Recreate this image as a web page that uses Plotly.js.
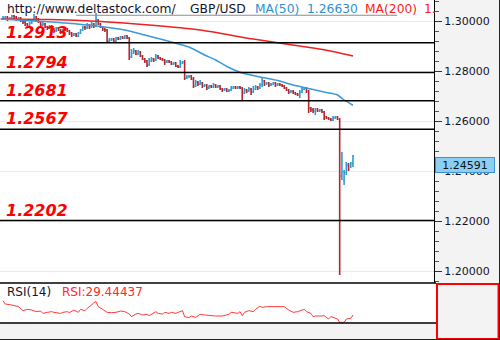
<!DOCTYPE html>
<html><head><meta charset="utf-8">
<script src="https://cdn.plot.ly/plotly-3.0.1.min.js"></script>
<style>html,body{margin:0;padding:0;background:#fff}#chart{width:500px;height:340px}</style>
</head><body><div id="chart"></div>
<script>
// ---- data ----
const opens = [1.3008,1.3012,1.3016,1.3008,1.3012,1.3020,1.3016,1.3008,1.3012,1.3004,
1.2996,1.2988,1.2980,1.2992,1.3004,1.3016,1.3008,1.2996,1.2984,1.2988,
1.2976,1.2972,1.2980,1.2968,1.2960,1.2972,1.2964,1.2956,1.2964,1.2968,
1.2960,1.2952,1.2944,1.2948,1.2940,1.2952,1.2964,1.2976,1.2972,1.2984,
1.2976,1.2988,1.2980,1.3004,1.2988,1.2976,1.2968,1.2964,1.2920,1.2924,
1.2928,1.2920,1.2932,1.2928,1.2936,1.2932,1.2940,1.2932,1.2856,1.2872,
1.2880,1.2868,1.2876,1.2860,1.2848,1.2840,1.2824,1.2840,1.2848,1.2844,
1.2860,1.2852,1.2848,1.2844,1.2836,1.2840,1.2836,1.2828,1.2832,1.2820,
1.2816,1.2832,1.2836,1.2772,1.2776,1.2780,1.2768,1.2740,1.2756,1.2748,
1.2752,1.2740,1.2744,1.2732,1.2740,1.2736,1.2744,1.2736,1.2740,1.2728,
1.2724,1.2728,1.2720,1.2724,1.2732,1.2736,1.2732,1.2736,1.2732,1.2712,
1.2724,1.2720,1.2728,1.2716,1.2728,1.2736,1.2732,1.2744,1.2760,1.2748,
1.2752,1.2744,1.2748,1.2752,1.2744,1.2748,1.2744,1.2740,1.2732,1.2724,
1.2716,1.2720,1.2712,1.2708,1.2704,1.2716,1.2728,1.2732,1.2720,1.2652,
1.2644,1.2640,1.2648,1.2640,1.2644,1.2636,1.2616,1.2612,1.2608,1.2604,
1.2612,1.2616,1.2608,1.2380,1.2364,1.2392,1.2424,1.2416,1.2428];
const highs = [1.3020,1.3020,1.3020,1.3016,1.3024,1.3024,1.3020,1.3016,1.3016,1.3008,
1.3000,1.2992,1.2996,1.3008,1.3028,1.3020,1.3012,1.3000,1.2996,1.2992,
1.2980,1.2984,1.2984,1.2972,1.2976,1.2976,1.2968,1.2968,1.2972,1.2972,
1.2964,1.2956,1.2952,1.2952,1.2956,1.2968,1.2980,1.2980,1.2992,1.2988,
1.2996,1.2992,1.3032,1.3008,1.2992,1.2980,1.2972,1.2968,1.2932,1.2932,
1.2932,1.2936,1.2936,1.2940,1.2940,1.2944,1.2944,1.2936,1.2888,1.2892,
1.2884,1.2884,1.2880,1.2864,1.2852,1.2844,1.2852,1.2856,1.2852,1.2868,
1.2864,1.2856,1.2852,1.2848,1.2844,1.2844,1.2840,1.2836,1.2836,1.2824,
1.2844,1.2840,1.2844,1.2784,1.2784,1.2784,1.2776,1.2764,1.2760,1.2764,
1.2756,1.2748,1.2748,1.2744,1.2744,1.2752,1.2748,1.2744,1.2744,1.2732,
1.2732,1.2732,1.2728,1.2740,1.2740,1.2740,1.2740,1.2740,1.2736,1.2732,
1.2728,1.2736,1.2732,1.2740,1.2744,1.2740,1.2752,1.2772,1.2764,1.2756,
1.2756,1.2752,1.2756,1.2756,1.2752,1.2752,1.2748,1.2744,1.2736,1.2728,
1.2724,1.2724,1.2716,1.2712,1.2724,1.2736,1.2736,1.2736,1.2724,1.2656,
1.2652,1.2652,1.2652,1.2648,1.2648,1.2640,1.2620,1.2616,1.2612,1.2620,
1.2620,1.2620,1.2612,1.2476,1.2404,1.2436,1.2432,1.2436,1.2464];
const lows = [1.3004,1.3008,1.3000,1.3004,1.3008,1.3008,1.3000,1.3004,1.2996,1.2988,
1.2980,1.2976,1.2976,1.2988,1.3000,1.3000,1.2992,1.2980,1.2980,1.2972,
1.2964,1.2968,1.2960,1.2952,1.2956,1.2960,1.2948,1.2952,1.2960,1.2956,
1.2944,1.2936,1.2940,1.2936,1.2936,1.2948,1.2960,1.2964,1.2968,1.2968,
1.2972,1.2972,1.2976,1.2984,1.2972,1.2960,1.2956,1.2912,1.2916,1.2920,
1.2916,1.2916,1.2924,1.2924,1.2928,1.2928,1.2928,1.2844,1.2852,1.2868,
1.2864,1.2864,1.2856,1.2844,1.2832,1.2816,1.2820,1.2836,1.2836,1.2840,
1.2848,1.2844,1.2840,1.2824,1.2832,1.2832,1.2824,1.2824,1.2816,1.2812,
1.2812,1.2828,1.2764,1.2768,1.2772,1.2764,1.2732,1.2736,1.2740,1.2744,
1.2732,1.2736,1.2724,1.2728,1.2732,1.2732,1.2732,1.2732,1.2724,1.2716,
1.2720,1.2716,1.2716,1.2720,1.2728,1.2728,1.2728,1.2728,1.2680,1.2708,
1.2712,1.2716,1.2704,1.2712,1.2724,1.2724,1.2728,1.2736,1.2740,1.2744,
1.2736,1.2740,1.2744,1.2736,1.2740,1.2740,1.2736,1.2728,1.2720,1.2708,
1.2712,1.2708,1.2704,1.2700,1.2692,1.2712,1.2724,1.2712,1.2632,1.2636,
1.2632,1.2624,1.2636,1.2636,1.2632,1.2604,1.2608,1.2604,1.2600,1.2600,
1.2608,1.2604,1.1984,1.2364,1.2344,1.2384,1.2400,1.2412,1.2416];
const closes = [1.3012,1.3016,1.3008,1.3012,1.3020,1.3016,1.3008,1.3012,1.3004,1.2996,
1.2988,1.2980,1.2992,1.3004,1.3016,1.3008,1.2996,1.2984,1.2988,1.2976,
1.2972,1.2980,1.2968,1.2960,1.2972,1.2964,1.2956,1.2964,1.2968,1.2960,
1.2952,1.2944,1.2948,1.2940,1.2952,1.2964,1.2976,1.2972,1.2984,1.2976,
1.2988,1.2980,1.3004,1.2988,1.2976,1.2968,1.2964,1.2920,1.2924,1.2928,
1.2920,1.2932,1.2928,1.2936,1.2932,1.2940,1.2932,1.2856,1.2872,1.2880,
1.2868,1.2876,1.2860,1.2848,1.2840,1.2824,1.2840,1.2848,1.2844,1.2860,
1.2852,1.2848,1.2844,1.2836,1.2840,1.2836,1.2828,1.2832,1.2820,1.2816,
1.2832,1.2836,1.2772,1.2776,1.2780,1.2768,1.2740,1.2756,1.2748,1.2752,
1.2740,1.2744,1.2732,1.2740,1.2736,1.2744,1.2736,1.2740,1.2728,1.2724,
1.2728,1.2720,1.2724,1.2732,1.2736,1.2732,1.2736,1.2732,1.2712,1.2724,
1.2720,1.2728,1.2716,1.2728,1.2736,1.2732,1.2744,1.2760,1.2748,1.2752,
1.2744,1.2748,1.2752,1.2744,1.2748,1.2744,1.2740,1.2732,1.2724,1.2716,
1.2720,1.2712,1.2708,1.2704,1.2716,1.2728,1.2732,1.2720,1.2652,1.2644,
1.2640,1.2648,1.2640,1.2644,1.2636,1.2616,1.2612,1.2608,1.2604,1.2612,
1.2616,1.2608,1.2380,1.2396,1.2392,1.2424,1.2408,1.2432,1.24591];

const ma50Idx = [-1,14,28,44,55,64,71,76,84,91,96,101,108,116,124,131,139,146,151,154,158];
const ma50Val = [1.3008,1.3000,1.2992,1.2978,1.2964,1.2944,1.2928,1.2916,1.2896,1.2864,1.2844,1.2818,1.2792,1.2776,1.2762,1.2744,1.2728,1.2714,1.2704,1.2684,1.2663];
const ma200Idx = [-1,21,44,66,89,113,140,150,158];
const ma200Val = [1.3008,1.3006,1.2998,1.2984,1.2964,1.2928,1.2892,1.2876,1.2860];

const rsiIdx = [0,1,4,5,7,9,11,13,15,17,18,20,22,23,26,27,29,30,32,34,35,37,38,40,41,42,43,45,47,49,51,53,55,57,58,60,61,63,65,66,69,70,72,73,75,76,78,81,82,84,85,87,89,91,93,96,99,102,103,105,106,107,108,109,111,113,114,116,117,119,121,124,126,127,129,131,133,134,136,137,139,140,141,144,145,147,148,149,151,152,153,154,155,157,158];
const rsiVal = [58.1,51.4,49.4,48.1,46.1,38.1,40.7,39.4,36.1,37.4,32.7,34.7,36.1,34.7,32.7,34.7,36.1,34.1,39.4,34.7,40.7,38.1,42.7,49.4,54.1,56.1,46.1,40.7,34.7,34.1,34.7,37.4,36.1,31.4,26.1,31.4,32.7,29.4,30.7,28.1,36.1,32.7,31.4,34.7,32.7,34.7,32.7,38.1,26.1,24.1,27.4,24.7,30.7,29.4,28.1,27.4,27.4,30.7,34.7,34.1,32.7,36.1,28.1,34.7,38.1,36.1,40.7,47.4,44.7,46.1,46.1,47.4,46.1,46.1,39.4,34.7,36.1,37.4,40.7,36.1,32.7,26.1,27.4,27.4,28.1,21.4,26.1,24.7,21.4,14.7,14.1,14.7,21.4,22.7,29.4];

const levels = [1.2913, 1.2794, 1.2681, 1.2567, 1.2202];
const levelLabels = ['1.2913', '1.2794', '1.2681', '1.2567', '1.2202'];
const topLine = {from: 33, to: 178, level: 1.3023};
const lastPrice = 1.24591;
const lastPriceLabel = '1.24591';
const headerParts = [
  {text: 'http://www.deltastock.com/', color: '#14142b', x: 5},
  {text: 'GBP/USD', color: '#14142b', x: 188},
  {text: 'MA(50)', color: '#2f8fd0', x: 253},
  {text: '1.26630', color: '#2f8fd0', x: 305},
  {text: 'MA(200)', color: '#ff1a1a', x: 363},
  {text: '1.', color: '#ff1a1a', x: 422}
];
const rsiParts = [
  {text: 'RSI(14)', color: '#14142b', x: 5},
  {text: 'RSI:29.44437', color: '#ff2a2a', x: 60}
];

// ---- chart ----
const W = 500, H = 340;
const px = v => v / W, py = v => 1 - v / H;
const xIdx = opens.map((_, i) => i);
const FONT = 'DejaVu Sans';

const traces = [
  {type: 'scatter', mode: 'lines', x: ma200Idx, y: ma200Val, line: {color: '#ee2020', width: 1.5, shape: 'spline', smoothing: 0.6}, hoverinfo: 'skip'},
  {type: 'scatter', mode: 'lines', x: ma50Idx, y: ma50Val, line: {color: '#3a9ad8', width: 1.5, shape: 'spline', smoothing: 0.6}, hoverinfo: 'skip'},
  {type: 'ohlc', x: xIdx, open: opens, high: highs, low: lows, close: closes, tickwidth: 0.45,
   increasing: {line: {color: '#2f9bd6', width: 1.6}}, decreasing: {line: {color: '#b3262b', width: 1.6}}, hoverinfo: 'skip'},
  {type: 'scatter', mode: 'lines', x: rsiIdx, y: rsiVal, yaxis: 'y2', line: {color: '#ff3a3a', width: 1}, hoverinfo: 'skip'}
];

const shapes = [
  {type: 'rect', xref: 'paper', yref: 'paper', x0: px(434), x1: 1, y0: py(283), y1: 1, fillcolor: '#f3f3f3', line: {width: 0}, layer: 'below'},
  {type: 'rect', xref: 'paper', yref: 'paper', x0: 0, x1: px(436), y0: 0, y1: py(323), fillcolor: '#f3f3f3', line: {width: 0}, layer: 'below'},
  {type: 'line', xref: 'x', yref: 'y', x0: topLine.from, x1: topLine.to, y0: topLine.level, y1: topLine.level, line: {color: '#8c8c8c', width: 1}}
];
levels.forEach(l => shapes.push({type: 'line', xref: 'paper', yref: 'y', x0: 0, x1: px(434), y0: l, y1: l, line: {color: '#000', width: 1.5}}));
shapes.push(
  {type: 'line', xref: 'paper', yref: 'paper', x0: px(434.5), x1: px(434.5), y0: py(283), y1: 1, line: {color: '#000', width: 1}},
  {type: 'line', xref: 'paper', yref: 'paper', x0: 0, x1: px(436), y0: py(283), y1: py(283), line: {color: '#000', width: 1.3}},
  {type: 'line', xref: 'paper', yref: 'paper', x0: 0, x1: px(436), y0: py(323), y1: py(323), line: {color: '#000', width: 1.3}},
  {type: 'rect', xref: 'paper', yref: 'paper', x0: px(437), x1: px(498.5), y0: py(339), y1: py(284), fillcolor: '#f3f3f3', line: {color: '#ff0000', width: 2}},
  {type: 'line', xref: 'paper', yref: 'paper', x0: px(499.5), x1: px(499.5), y0: 0, y1: 1, line: {color: '#222', width: 1}},
  {type: 'line', xref: 'paper', yref: 'paper', x0: 0, x1: 1, y0: py(339.5), y1: py(339.5), line: {color: '#222', width: 1}}
);

const annotations = [];
levels.forEach((l, i) => annotations.push({
  xref: 'paper', yref: 'y', x: px(4), y: l, xanchor: 'left', yanchor: 'bottom', showarrow: false,
  text: '<b><i>' + levelLabels[i] + '</i></b>', font: {family: FONT, size: 16, color: '#ff0000'}, yshift: -1
}));
headerParts.forEach(p => annotations.push({
  xref: 'paper', yref: 'paper', x: px(p.x), y: 1, xanchor: 'left', yanchor: 'top', showarrow: false,
  text: p.text, font: {family: FONT, size: 12.3, color: p.color}
}));
rsiParts.forEach(p => annotations.push({
  xref: 'paper', yref: 'paper', x: px(p.x), y: py(292), xanchor: 'left', yanchor: 'middle', showarrow: false,
  text: p.text, font: {family: FONT, size: 12, color: p.color}
}));
annotations.push({
  xref: 'paper', yref: 'y', x: px(435), y: lastPrice, xanchor: 'left', yanchor: 'top', yshift: -1, showarrow: false,
  text: lastPriceLabel, font: {family: FONT, size: 11, color: '#111'}, bgcolor: '#8dcff3', bordercolor: '#3a94d6', borderwidth: 1, width: 56, height: 12
});

const layout = {
  width: W, height: H, autosize: false,
  margin: {l: 0, r: 0, t: 0, b: 0, pad: 0},
  paper_bgcolor: '#ffffff', plot_bgcolor: '#ffffff',
  showlegend: false,
  xaxis: {domain: [0, px(434)], range: [-1.354, 194.58], showgrid: false, zeroline: false, showticklabels: false, ticks: '', rangeslider: {visible: false}, fixedrange: true},
  yaxis: {domain: [py(283), 1], range: [1.1952, 1.3084], side: 'right', anchor: 'x',
    tick0: 1.2, dtick: 0.02, tickformat: '.5f', ticks: 'outside', ticklen: 7, tickwidth: 1, tickcolor: '#333',
    showgrid: true, gridcolor: '#ebebeb', gridwidth: 1, zeroline: false, showline: false,
    tickfont: {family: FONT, size: 11, color: '#14142b'},
    minor: {dtick: 0.004, ticks: 'outside', ticklen: 4, tickcolor: '#555', showgrid: false}, fixedrange: true},
  yaxis2: {domain: [py(323), py(283)], range: [13.4, 93.4], side: 'right', anchor: 'x', showgrid: false, zeroline: false, showticklabels: false, ticks: '', fixedrange: true},
  shapes: shapes,
  annotations: annotations
};

Plotly.newPlot('chart', traces, layout, {staticPlot: true, displayModeBar: false});
</script>
</body></html>
